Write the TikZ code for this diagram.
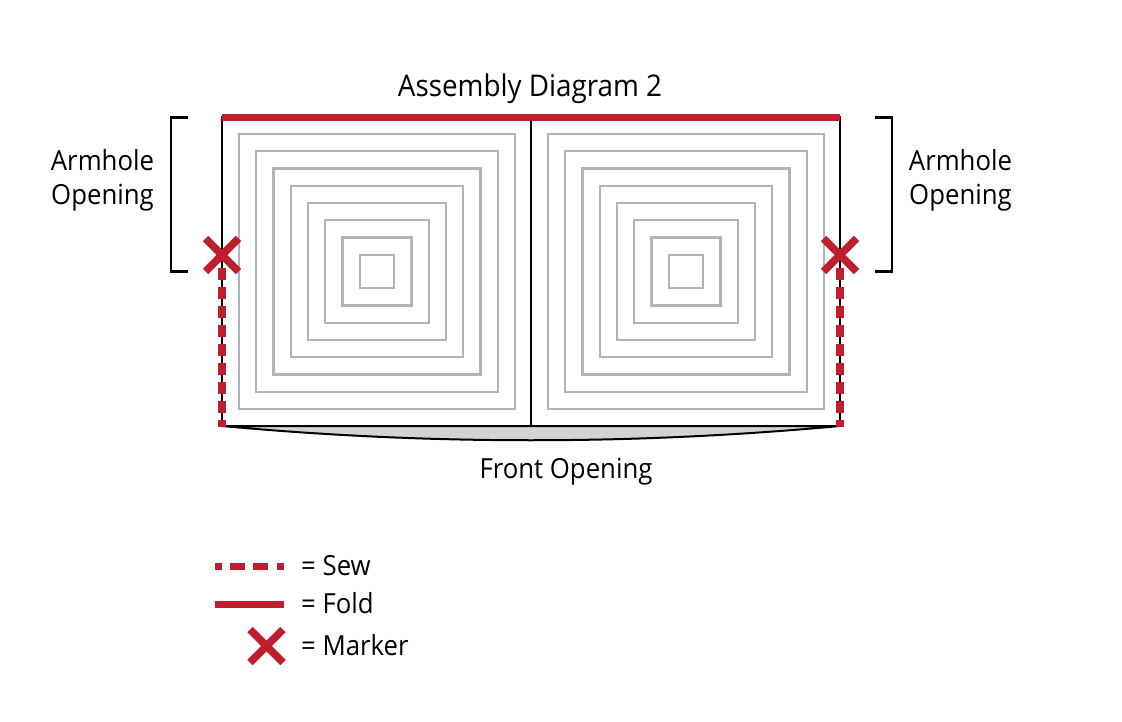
\documentclass[tikz,border=0pt]{standalone}
\usepackage{fontspec}
\setmainfont{Open Sans}[FakeStretch=0.93]
\definecolor{garmentred}{HTML}{BE1E2D}
\definecolor{linegrey}{HTML}{B1B3B6}
\definecolor{lensgrey}{HTML}{D1D3D4}
\newcommand{\lbl}{\fontsize{27.7pt}{34pt}\selectfont}
\newcommand{\ttl}{\fontsize{29.9pt}{34pt}\selectfont}
\tikzset{
  seam/.style={line width=2pt,black},
  spiral/.style={line width=2.4pt,linegrey},
  foldline/.style={line width=7pt,garmentred},
  sewline/.style={line width=7.4pt,garmentred,dash pattern=on 12pt off 7pt},
  markline/.style={line width=7.5pt,garmentred},
  bracketline/.style={line width=2.2pt,black},
  lbl/.style={font=\lbl,inner sep=0pt,align=center},
  lblw/.style={font=\lbl,inner sep=0pt,anchor=base west},
}
\newcommand{\xmark}[2]{%
  \draw[markline] (#1-16.5,#2-16.5) -- (#1+16.5,#2+16.5);
  \draw[markline] (#1-16.5,#2+16.5) -- (#1+16.5,#2-16.5);}
\begin{document}
\begin{tikzpicture}[x=1pt,y=-1pt]
\useasboundingbox (0,0) rectangle (1122,722);
% front opening lens
\draw[seam,fill=lensgrey] (222,426) .. controls (428,445) and (634,445) .. (840,426) -- cycle;
% panel outlines
\draw[seam] (222,117) rectangle (840,426);
\draw[seam] (531,117) -- (531,426);
% concentric rectangles
\foreach \i in {0,...,7}{
  \pgfmathsetmacro{\d}{17.25*\i}
  \draw[spiral] (239+\d,134+\d) rectangle (515-\d,409-\d);
  \draw[spiral] (548+\d,134+\d) rectangle (824-\d,409-\d);
}
% fold and sew
\draw[foldline] (222,117.5) -- (840,117.5);
\draw[sewline] (222,268) -- (222,426.5);
\draw[sewline] (840,268) -- (840,426.5);
\xmark{222}{255}
\xmark{840}{255}
% brackets
\draw[bracketline] (188,117.5) -- (171,117.5) -- (171,271.5) -- (188,271.5);
\draw[bracketline] (875,117.5) -- (892,117.5) -- (892,271.5) -- (875,271.5);
% labels
\node[lbl,font=\ttl,anchor=base] (title) at (530,97) {Assembly Diagram 2};
\node[lbl,anchor=base] (armL) at (102.5,204.5) {Armhole\\Opening};
\node[lbl,anchor=base] (armR) at (960.5,204.5) {Armhole\\Opening};
\node[lbl,anchor=base] (front) at (566,478) {Front Opening};
% legend
\draw[line width=7pt,garmentred] (215,566.5) -- (222,566.5) (230,566.5) -- (245,566.5) (253,566.5) -- (268,566.5) (277,566.5) -- (284,566.5);
\draw[foldline] (215,604.5) -- (284,604.5);
\xmark{266.5}{646}
\node[lblw] (sew) at (301,575.5) {= Sew};
\node[lblw] (fold) at (301,613.5) {= Fold};
\node[lblw] (marker) at (301,655) {= Marker};
\end{tikzpicture}
\end{document}
